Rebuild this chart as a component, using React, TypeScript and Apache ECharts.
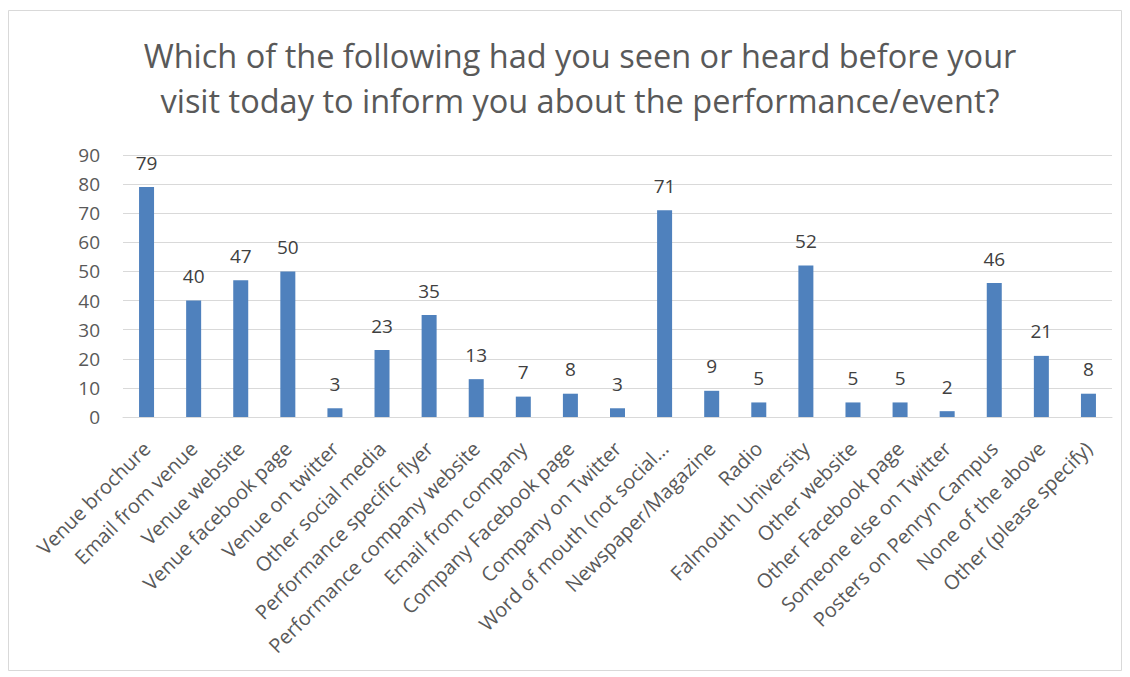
import React, { useEffect, useRef } from "react";
import * as echarts from "echarts";

const categories = [
  "Venue brochure",
  "Email from venue",
  "Venue website",
  "Venue facebook page",
  "Venue on twitter",
  "Other social media",
  "Performance specific flyer",
  "Performance company website",
  "Email from company",
  "Company Facebook page",
  "Company on Twitter",
  "Word of mouth (not social…",
  "Newspaper/Magazine",
  "Radio",
  "Falmouth University",
  "Other website",
  "Other Facebook page",
  "Someone else on Twitter",
  "Posters on Penryn Campus",
  "None of the above",
  "Other (please specify)",
];

const values = [79, 40, 47, 50, 3, 23, 35, 13, 7, 8, 3, 71, 9, 5, 52, 5, 5, 2, 46, 21, 8];

const titleText =
  "Which of the following had you seen or heard before your\nvisit today to inform you about the performance/event?";

export default function App() {
  const ref = useRef<HTMLDivElement>(null);
  useEffect(() => {
    document.body.style.margin = "0";
    const chart = echarts.init(ref.current!, null, { renderer: "svg" });
    const font = "'Open Sans', 'Noto Sans', sans-serif";
    chart.setOption({
      animation: false,
      backgroundColor: "#ffffff",
      title: {
        text: titleText,
        left: 575,
        textAlign: "center",
        top: 28,
        textStyle: {
          fontFamily: font,
          fontSize: 32.5,
          fontWeight: "normal",
          color: "#595959",
          lineHeight: 45,
        },
      },
      graphic: [
        {
          type: "rect",
          shape: { x: 8.5, y: 10.5, width: 1113, height: 660 },
          style: { fill: "none", stroke: "#d9d9d9", lineWidth: 1 },
          silent: true,
        },
      ],
      grid: { left: 123, right: 18, top: 155, bottom: 260, containLabel: false },
      xAxis: {
        type: "category",
        data: categories,
        axisLine: { show: true, lineStyle: { color: "#d9d9d9", width: 1 } },
        axisTick: { show: false },
        axisLabel: {
          interval: 0,
          rotate: 45,
          margin: 28,
          fontFamily: font,
          fontSize: 20,
          color: "#595959",
        },
      },
      yAxis: {
        type: "value",
        min: 0,
        max: 90,
        interval: 10,
        axisLine: { show: false },
        axisTick: { show: false },
        splitLine: { lineStyle: { color: "#d9d9d9", width: 1 } },
        axisLabel: {
          fontFamily: font,
          fontSize: 19,
          color: "#595959",
          margin: 23,
        },
      },
      series: [
        {
          type: "bar",
          data: values,
          barWidth: 15,
          itemStyle: { color: "#4f81bd" },
          label: {
            show: true,
            position: "top",
            distance: 15,
            fontFamily: font,
            fontSize: 19,
            color: "#404040",
          },
        },
      ],
    });
    return () => chart.dispose();
  }, []);
  return <div ref={ref} style={{ width: 1130, height: 677 }} />;
}
